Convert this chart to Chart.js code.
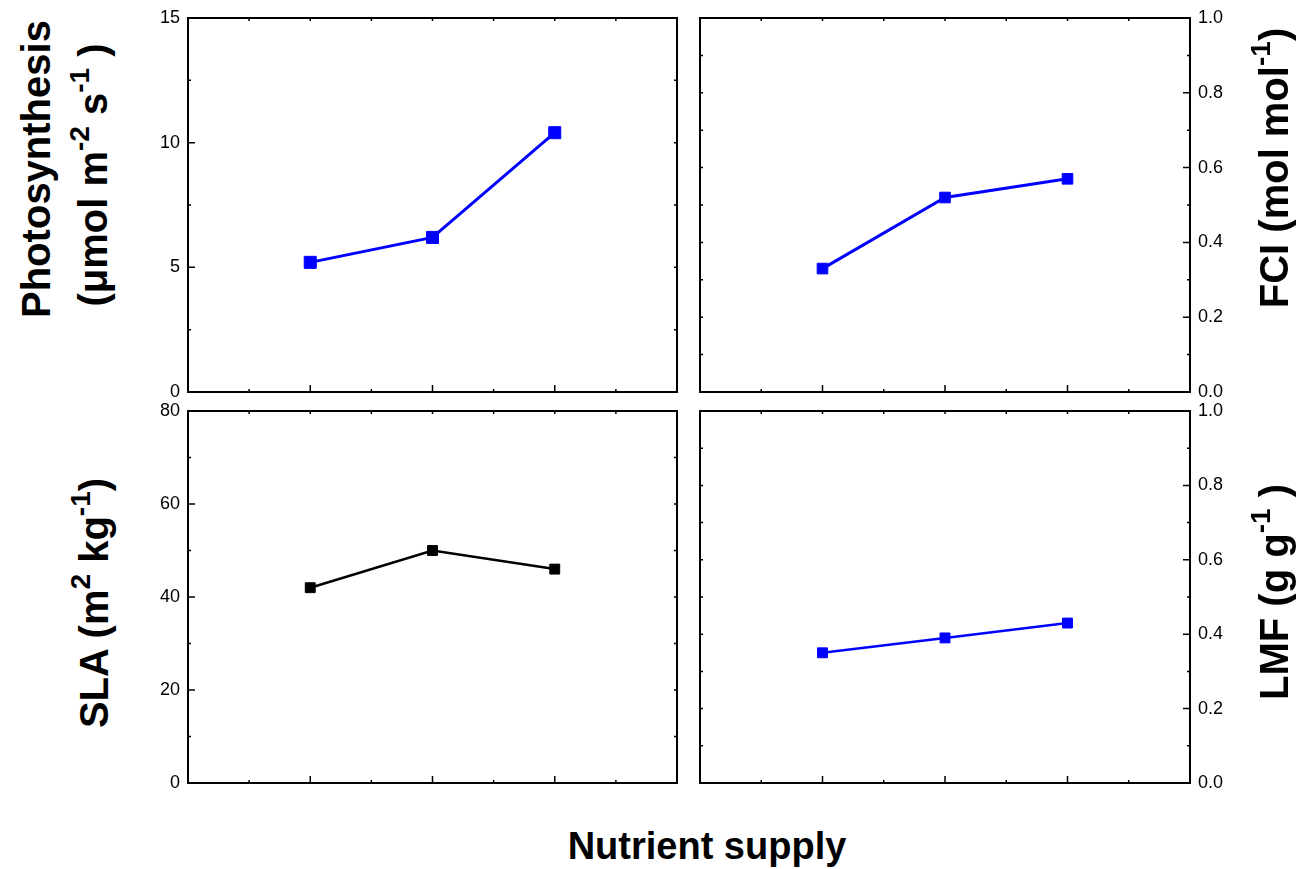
<!DOCTYPE html>
<html>
<head>
<meta charset="utf-8">
<script src="https://cdn.jsdelivr.net/npm/chart.js@4.4.1/dist/chart.umd.min.js"></script>
<style>
  body { margin: 0; background: #fff; width: 1306px; height: 869px; position: relative; overflow: hidden;
         font-family: 'Liberation Sans', Arial, sans-serif; color: #000; }
  canvas { position: absolute; }
  .ttl { position: absolute; font-weight: bold; font-size: 40px; line-height: 1; white-space: nowrap;
         transform: translate(-50%, -50%) rotate(-90deg); }
  .ttl sup { font-size: 0.7em; vertical-align: 0.65em; line-height: 0; }
  .xttl { position: absolute; font-weight: bold; font-size: 38px; line-height: 1; white-space: nowrap;
          transform: translate(-50%, -50%); }
</style>
</head>
<body>
<canvas id="photo-chart" width="560" height="405" style="left:130px;top:0"></canvas>
<canvas id="fci-chart" width="560" height="405" style="left:690px;top:0"></canvas>
<canvas id="sla-chart" width="560" height="405" style="left:130px;top:398px"></canvas>
<canvas id="lmf-chart" width="560" height="405" style="left:690px;top:398px"></canvas>

<div class="ttl" style="left:36px;top:169px">Photosynthesis</div>
<div class="ttl" style="left:93px;top:175px">(μmol m<sup>-2</sup> s<sup>-1</sup> )</div>
<div class="ttl" style="left:1274px;top:168px">FCI (mol mol<sup>-1</sup>)</div>
<div class="ttl" style="left:94px;top:603px">SLA (m<sup>2</sup> kg<sup>-1</sup>)</div>
<div class="ttl" style="left:1274px;top:592px">LMF (g g<sup>-1</sup> )</div>
<div class="xttl" style="left:707px;top:846px">Nutrient supply</div>

<script>
// ---- data ----
const supplyLevels = [1, 2, 3];
const photosynthesis = [5.2, 6.2, 10.4];
const fci = [0.33, 0.52, 0.57];
const sla = [42, 50, 46];
const lmf = [0.35, 0.39, 0.43];

// tick values
const xMajorTicks = [1, 2, 3];
const xMinorTicks = [0.5, 1.5, 2.5, 3.5];
const photoTicks = [0, 5, 10, 15];
const fracTicks = [0, 0.2, 0.4, 0.6, 0.8, 1.0];
const slaTicks = [0, 20, 40, 60, 80];

const FONT = "'Liberation Sans', Arial, sans-serif";

// frame with inward tick marks, drawn from the chart's own scales
const framePlugin = {
  id: 'frame',
  afterDraw(chart, args, opts) {
    const { ctx, chartArea: a, scales: { x, y } } = chart;
    ctx.save();
    ctx.strokeStyle = '#000';
    ctx.lineWidth = 2;
    ctx.strokeRect(a.left, a.top, a.width, a.height);

    ctx.lineWidth = 1.5;
    ctx.beginPath();
    xMajorTicks.forEach(v => {
      const px = x.getPixelForValue(v);
      ctx.moveTo(px, a.bottom); ctx.lineTo(px, a.bottom - 7);
      ctx.moveTo(px, a.top); ctx.lineTo(px, a.top + 3);
    });
    xMinorTicks.forEach(v => {
      const px = x.getPixelForValue(v);
      ctx.moveTo(px, a.bottom); ctx.lineTo(px, a.bottom - 3);
      ctx.moveTo(px, a.top); ctx.lineTo(px, a.top + 3);
    });

    const ticks = opts.ticks;
    const minor = ticks.slice(1).map((v, i) => (v + ticks[i]) / 2);
    const axisX = opts.side === 'left' ? a.left : a.right;
    const otherX = opts.side === 'left' ? a.right : a.left;
    const dir = opts.side === 'left' ? 1 : -1;
    ticks.forEach(v => {
      const py = y.getPixelForValue(v);
      ctx.moveTo(axisX, py); ctx.lineTo(axisX + dir * 7, py);
      ctx.moveTo(otherX, py); ctx.lineTo(otherX - dir * 3, py);
    });
    minor.forEach(v => {
      const py = y.getPixelForValue(v);
      ctx.moveTo(axisX, py); ctx.lineTo(axisX + dir * 3, py);
      ctx.moveTo(otherX, py); ctx.lineTo(otherX - dir * 3, py);
    });
    ctx.stroke();
    ctx.restore();
  }
};

function makePanel(canvasId, cfg) {
  const left = cfg.side === 'left';
  const top = cfg.row === 'top';
  return new Chart(document.getElementById(canvasId), {
    type: 'line',
    data: {
      datasets: [{
        data: supplyLevels.map((x, i) => ({ x, y: cfg.values[i] })),
        borderColor: cfg.color,
        backgroundColor: cfg.color,
        borderWidth: cfg.lineWidth,
        pointStyle: 'rect',
        pointRadius: cfg.pointRadius,
        pointBorderWidth: 1,
        pointBackgroundColor: cfg.color,
        pointBorderColor: cfg.color,
        tension: 0,
      }]
    },
    options: {
      responsive: false,
      animation: false,
      events: [],
      layout: {
        padding: {
          left: left ? 0 : 10,
          right: left ? 13 : 10,
          top: top ? 18 : 13,
          bottom: top ? 13 : 20,
        }
      },
      plugins: {
        legend: { display: false },
        tooltip: { enabled: false },
        frame: { side: cfg.side, ticks: cfg.ticks },
      },
      scales: {
        x: {
          type: 'linear',
          min: 0,
          max: 4,
          grid: { display: false, drawTicks: false },
          border: { display: false },
          ticks: { display: false },
          afterFit: s => { s.height = 0; s.paddingLeft = 0; s.paddingRight = 0; },
        },
        y: {
          type: 'linear',
          position: cfg.side,
          min: cfg.ticks[0],
          max: cfg.ticks[cfg.ticks.length - 1],
          afterBuildTicks: s => { s.ticks = cfg.ticks.map(v => ({ value: v })); },
          grid: { display: false, drawTicks: false },
          border: { display: false },
          ticks: {
            padding: 8,
            color: '#000',
            font: { family: FONT, size: 18 },
            callback: cfg.format,
          },
          afterFit: s => {
            s.width = left ? 58 : 50;
            s.paddingTop = 0;
            s.paddingBottom = 0;
          },
        }
      }
    },
    plugins: [framePlugin]
  });
}

makePanel('photo-chart', {
  side: 'left', row: 'top', values: photosynthesis, color: '#0000ff',
  ticks: photoTicks, format: v => String(v), pointRadius: 8.5, lineWidth: 3,
});
makePanel('fci-chart', {
  side: 'right', row: 'top', values: fci, color: '#0000ff',
  ticks: fracTicks, format: v => v.toFixed(1), pointRadius: 7.5, lineWidth: 3,
});
makePanel('sla-chart', {
  side: 'left', row: 'bottom', values: sla, color: '#000000',
  ticks: slaTicks, format: v => String(v), pointRadius: 7, lineWidth: 2.5,
});
makePanel('lmf-chart', {
  side: 'right', row: 'bottom', values: lmf, color: '#0000ff',
  ticks: fracTicks, format: v => v.toFixed(1), pointRadius: 7, lineWidth: 2.5,
});
</script>
</body>
</html>
